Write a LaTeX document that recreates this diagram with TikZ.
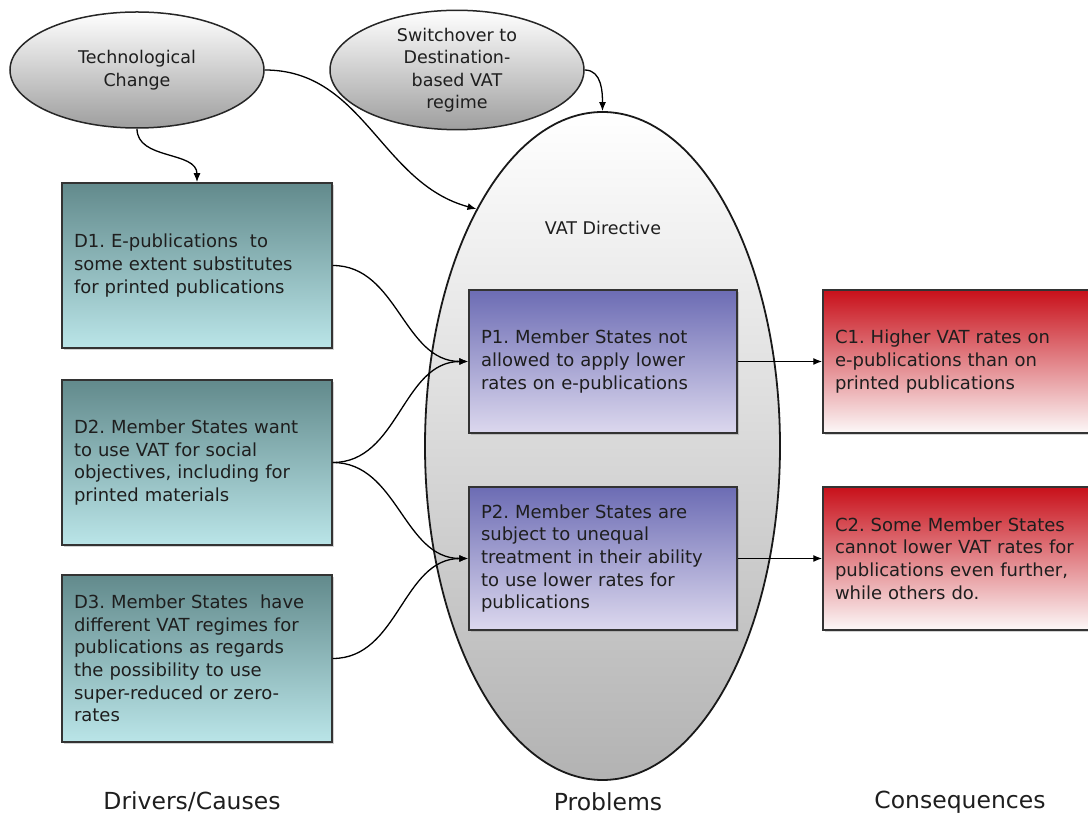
\documentclass[tikz,border=0pt]{standalone}
\usepackage{fontspec}
\setmainfont{DejaVu Sans}
\usetikzlibrary{shapes.geometric,arrows.meta,shadows}

\definecolor{tealtop}{RGB}{98,138,140}
\definecolor{tealbot}{RGB}{186,229,232}
\definecolor{purptop}{RGB}{108,108,180}
\definecolor{purpbot}{RGB}{220,216,238}
\definecolor{redtop}{RGB}{200,16,26}
\definecolor{redbot}{RGB}{252,248,248}
\definecolor{inktext}{RGB}{30,30,30}

\newcommand\boxfont{\fontsize{18}{22.7}\selectfont}
\newcommand\ovalfont{\fontsize{17.5}{22.5}\selectfont}
\newcommand\headfont{\fontsize{23.5}{28}\selectfont}

\tikzset{
  panel/.style={draw=black!80, line width=1.5pt, align=left, font=\boxfont, text=inktext,
    inner xsep=12pt, drop shadow={shadow xshift=1.5pt, shadow yshift=-2.5pt, opacity=.35}},
  driver/.style={panel, minimum width=270pt, minimum height=165pt, text width=246pt,
    top color=tealtop, bottom color=tealbot},
  problem/.style={panel, minimum width=268pt, minimum height=143pt, text width=244pt,
    top color=purptop, bottom color=purpbot},
  conseq/.style={panel, minimum width=277pt, minimum height=143pt, text width=253pt,
    top color=redtop, bottom color=redbot},
  oval/.style={ellipse, draw=black!85, line width=1.5pt, minimum width=254pt, minimum height=116pt,
    inner sep=0pt, align=center, font=\ovalfont, text=inktext, top color=white, bottom color=black!38},
  link/.style={line width=1.3pt, -{Latex[length=9pt,width=7pt]}},
}

\begin{document}
\frenchspacing
\begin{tikzpicture}[x=1pt, y=1pt]
\useasboundingbox (0,0) rectangle (1088,817);

% external triggers
\node[oval] (tech) at (137,747) {Technological\\Change};
\node[oval] (switch) at (457,747) {Switchover to\\Destination-\\based VAT\\regime};

% the directive
\node[ellipse, draw=black!90, line width=1.8pt, minimum width=355pt, minimum height=668pt,
  inner sep=0pt, top color=white, bottom color=black!30] (vat) at (602.5,371) {};
\node[font=\ovalfont, text=inktext] (vatlbl) at (603,589) {VAT Directive};

% drivers
\node[driver] (d1) at (197,551.5) {D1. E-publications~ to\\some extent substitutes\\for printed publications};
\node[driver] (d2) at (197,354.5) {D2. Member States want\\to use VAT for social\\objectives, including for\\printed materials};
\node[driver, minimum height=167pt] (d3) at (197,158.5) {D3. Member States~ have\\different VAT regimes for\\publications as regards\\the possibility to use\\super-reduced or zero-\\rates};

% problems
\node[problem] (p1) at (603,455.5) {P1. Member States not\\allowed to apply lower\\rates on e-publications};
\node[problem] (p2) at (603,258.5) {P2. Member States are\\subject to unequal\\treatment in their ability\\to use lower rates for\\publications};

% consequences
\node[conseq] (c1) at (961.5,455.5) {C1. Higher VAT rates on\\e-publications than on\\printed publications};
\node[conseq] (c2) at (961.5,258.5) {C2. Some Member States\\cannot lower VAT rates for\\publications even further,\\while others do.};

% column headings
\node[font=\headfont, text=inktext] (hdrv) at (192,15) {Drivers/Causes};
\node[font=\headfont, text=inktext] (hprb) at (608,15) {Problems};
\node[font=\headfont, text=inktext] (hcon) at (960,15) {Consequences};

% connectors
\draw[link] (tech.south) to[out=-90, in=90] (d1.north);
\draw[link] (tech.east) to[out=0, in=165] (vat.118);
\draw[link] (switch.east) to[out=0, in=90] (vat.north);
\draw[link] (d1.east) to[out=0, in=180] (p1.west);
\draw[link] (d2.east) to[out=0, in=180] (p1.west);
\draw[link] (d2.east) to[out=0, in=180] (p2.west);
\draw[link] (d3.east) to[out=0, in=180] (p2.west);
\draw[link] (p1.east) -- (c1.west);
\draw[link] (p2.east) -- (c2.west);
\end{tikzpicture}
\end{document}
